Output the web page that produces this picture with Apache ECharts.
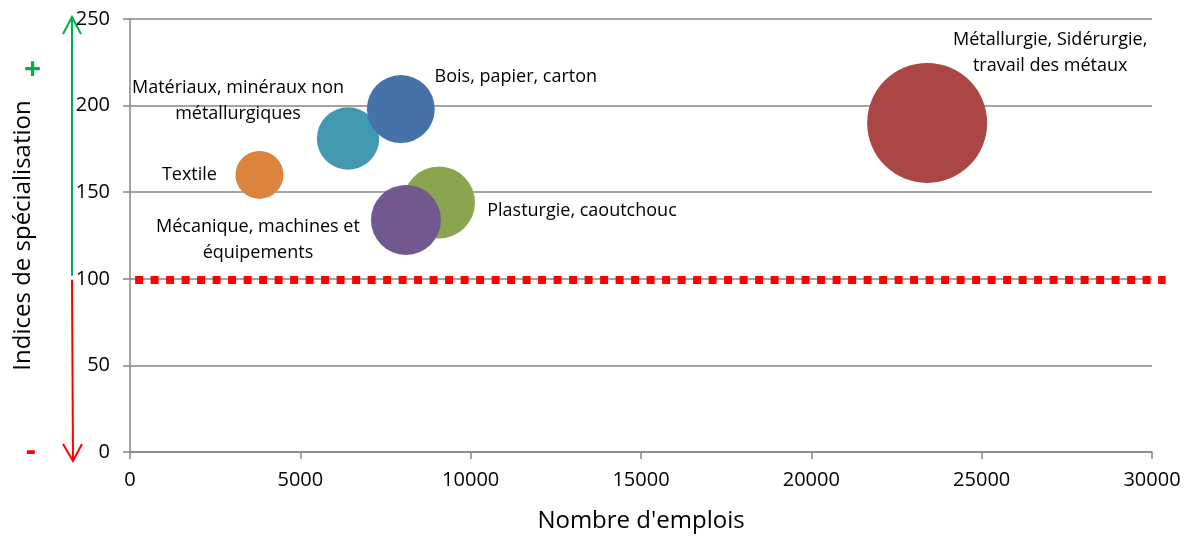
<!DOCTYPE html>
<html>
<head>
<meta charset="utf-8">
<script src="https://cdn.jsdelivr.net/npm/echarts@6/dist/echarts.min.js"></script>
<style>
html,body{margin:0;padding:0;background:#fff;}
#chart{width:1192px;height:538px;}
</style>
</head>
<body>
<div id="chart"></div>
<script>
// ---- Data ----
var secteurs = [
  "Métallurgie, Sidérurgie,\ntravail des métaux",
  "Matériaux, minéraux non\nmétallurgiques",
  "Bois, papier, carton",
  "Textile",
  "Plasturgie, caoutchouc",
  "Mécanique, machines et\néquipements"
];
var emplois = [23400, 6400, 7950, 3800, 9070, 8100];
var indices = [190, 181, 198, 160, 144, 134];
var tailles = [100, 27, 32, 16, 36, 34];
var refX = [150, 30400];
var refY = [100, 100];
var xTicks = [0, 5000, 10000, 15000, 20000, 25000, 30000];
var yTicks = [0, 50, 100, 150, 200, 250];

// ---- Styles ----
var colors = ["#AA4643", "#4198AF", "#4572A7", "#DB843D", "#89A54E", "#71588F"];
var labelOffsets = [[123, -70], [-110, -38], [115, -32], [-70, 0], [143, 8], [-148, 20]];
var FONT = "Open Sans";
var GRID = "#868686";
var W = 1192, GL = 130, GR = 40, GR2 = 20, GT = 19, GB = 84;

var chart = echarts.init(document.getElementById('chart'));

var xMax = xTicks[xTicks.length - 1];
// wider overlay grid with identical scale, so the reference line may run past the plot edge
var xMax2 = xMax * (W - GL - GR2) / (W - GL - GR);

var bubbleData = secteurs.map(function (n, i) {
  return {
    name: n,
    value: [emplois[i], indices[i], tailles[i]],
    itemStyle: { color: colors[i], opacity: 1 },
    label: { offset: labelOffsets[i] }
  };
});

var option = {
  animation: false,
  textStyle: { fontFamily: FONT },
  grid: [
    { left: GL, right: GR, top: GT, bottom: GB },
    { left: GL, right: GR2, top: GT, bottom: GB }
  ],
  xAxis: [{
    type: 'value', gridIndex: 0,
    min: xTicks[0], max: xMax, interval: 5000,
    name: "Nombre d'emplois",
    nameLocation: 'middle', nameGap: 57,
    nameTextStyle: { fontSize: 24, color: '#000', fontFamily: FONT },
    axisLine: { show: true, lineStyle: { color: GRID, width: 1.5 } },
    axisTick: { show: true, length: 7, inside: false, lineStyle: { color: GRID, width: 1.5 } },
    axisLabel: { fontSize: 20, color: '#000', margin: 18, fontFamily: FONT,
      formatter: function (v) { return String(v); } },
    splitLine: { show: false }
  }, {
    type: 'value', gridIndex: 1, min: 0, max: xMax2, show: false
  }],
  yAxis: [{
    type: 'value', gridIndex: 0,
    min: yTicks[0], max: yTicks[yTicks.length - 1], interval: 50,
    name: "Indices de spécialisation",
    nameLocation: 'middle', nameGap: 95,
    nameTextStyle: { fontSize: 24, color: '#000', fontFamily: FONT },
    axisLine: { show: true, lineStyle: { color: GRID, width: 1.5 } },
    axisTick: { show: true, length: 7, inside: false, lineStyle: { color: GRID, width: 1.5 } },
    axisLabel: { fontSize: 20, color: '#000', margin: 20, fontFamily: FONT,
      formatter: function (v) { return String(v); } },
    splitLine: { show: true, lineStyle: { color: GRID, width: 1.5 } }
  }, {
    type: 'value', gridIndex: 1, min: yTicks[0], max: yTicks[yTicks.length - 1], show: false
  }],
  series: [
    {
      type: 'line',
      xAxisIndex: 1, yAxisIndex: 1,
      data: refX.map(function (x, i) { return [x, refY[i]]; }),
      symbol: 'none',
      clip: false,
      z: 3,
      lineStyle: { color: '#FF0000', width: 8, type: [8, 7.5], cap: 'butt' }
    },
    {
      type: 'scatter',
      xAxisIndex: 0, yAxisIndex: 0,
      data: bubbleData,
      z: 4,
      symbol: 'circle',
      symbolSize: function (v) { return 12 * Math.sqrt(v[2]); },
      label: {
        show: true,
        position: 'inside',
        formatter: function (p) { return p.name; },
        fontSize: 18,
        lineHeight: 26,
        color: '#000',
        align: 'center',
        verticalAlign: 'middle',
        fontFamily: FONT
      },
      emphasis: { disabled: true }
    }
  ]
};
chart.setOption(option);

// ---- Annotation arrows (outside plot) ----
var yTop = chart.convertToPixel({ gridIndex: 0 }, [0, 250])[1];
var yMid = chart.convertToPixel({ gridIndex: 0 }, [0, 100])[1];
var yBot = chart.convertToPixel({ gridIndex: 0 }, [0, 0])[1];
var ax = 72;
chart.setOption({
  graphic: [
    { type: 'line', shape: { x1: ax, y1: yMid - 3, x2: ax, y2: yTop - 2 }, style: { stroke: '#00B050', lineWidth: 2 } },
    { type: 'polyline', shape: { points: [[ax - 9, yTop + 15], [ax, yTop - 2], [ax + 9, yTop + 15]] }, style: { stroke: '#00B050', lineWidth: 2, fill: null } },
    { type: 'line', shape: { x1: ax, y1: yMid + 1, x2: ax + 1, y2: yBot + 9 }, style: { stroke: '#FF0000', lineWidth: 2 } },
    { type: 'polyline', shape: { points: [[ax - 9, yBot - 8], [ax + 1, yBot + 9], [ax + 10, yBot - 8]] }, style: { stroke: '#FF0000', lineWidth: 2, fill: null } },
    { type: 'text', left: 24, top: 55, style: { text: '+', fill: '#00B050', font: 'bold 30px "Open Sans"' } },
    { type: 'text', left: 26, top: 436, style: { text: '-', fill: '#FF0000', font: 'bold 30px "Open Sans"' } }
  ]
});
</script>
</body>
</html>
